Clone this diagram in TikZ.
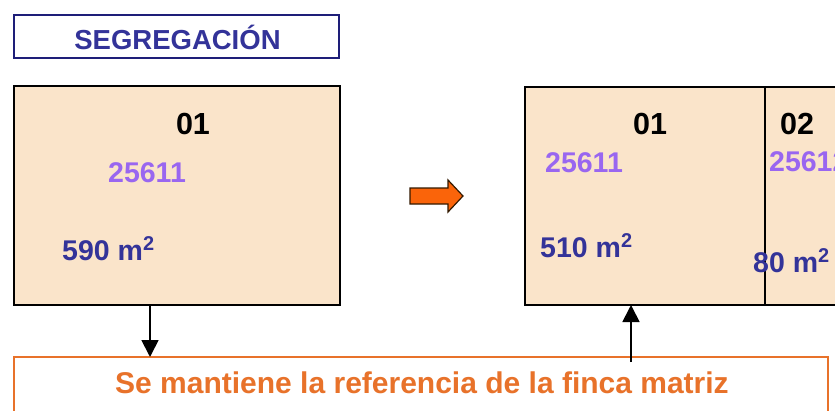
\documentclass[tikz,border=0pt]{standalone}
\usepackage{fontspec}
\setmainfont{Liberation Sans}
\definecolor{titleblue}{RGB}{51,51,153}
\definecolor{titleframe}{RGB}{30,30,120}
\definecolor{refpurple}{RGB}{153,102,240}
\definecolor{areablue}{RGB}{51,51,153}
\definecolor{orangetxt}{RGB}{232,114,42}
\definecolor{arrowfill}{RGB}{250,100,10}
\definecolor{plotfill}{RGB}{250,228,202}
\tikzset{
  plotbox/.style={draw=black,line width=2.8pt,fill=plotfill},
  numlabel/.style={font=\bfseries\fontsize{30.5}{30.5}\selectfont,text=black,inner sep=0pt},
  reflabel/.style={font=\bfseries\fontsize{28.5}{28.5}\selectfont,text=refpurple,inner sep=0pt},
  arealabel/.style={font=\bfseries\fontsize{28.5}{28.5}\selectfont,text=areablue,inner sep=0pt},
  conn/.style={draw=black,line width=1.8pt,-{Triangle[width=17pt,length=17pt]}}
}
\usetikzlibrary{arrows.meta}
\begin{document}
\begin{tikzpicture}[x=1pt,y=-1pt]
\useasboundingbox (0,0) rectangle (835,410);
\fill[white] (0,0) rectangle (835,410);
\begin{scope}
\clip (0,0) rectangle (835,410);
% title
\draw[draw=titleframe,line width=2.8pt,fill=white] (14,15) rectangle (339,58);
\node[font=\bfseries\fontsize{27.5}{27.5}\selectfont,text=titleblue,inner sep=0pt,anchor=base] (title) at (177.5,49) {SEGREGACIÓN};
% left plot
\path[plotbox] (14,86) rectangle (340,305);
\coordinate (leftbot) at (150,305);
\node[numlabel,anchor=base] (l01) at (193,134) {01};
\node[reflabel,anchor=base west] (lref) at (108,182) {25611};
\node[arealabel,anchor=base west] (larea) at (62,260) {590 m\textsuperscript{2}};
% block arrow
\draw[fill=arrowfill,draw=black!80!orange,line width=1.2pt,line join=miter]
  (410,188) -- (448,188) -- (448,180) -- (463,196) -- (448,212) -- (448,204) -- (410,204) -- cycle;
% right plot
\path[plotbox] (525,87) rectangle (900,305);
\draw[black,line width=2pt] (765,87) -- (765,305);
\coordinate (rightbot) at (631,305);
\node[numlabel,anchor=base] (r01) at (650,134) {01};
\node[numlabel,anchor=base] (r02) at (797,134) {02};
\node[reflabel,anchor=base west] (rref1) at (545,172) {25611};
\node[reflabel,anchor=base west] (rref2) at (769,171) {25612};
\node[arealabel,anchor=base west] (rarea1) at (540,257) {510 m\textsuperscript{2}};
\node[arealabel,anchor=base west] (rarea2) at (753,272) {80 m\textsuperscript{2}};
% bottom box
\draw[draw=orangetxt,line width=2.5pt,fill=white] (14,357) rectangle (828,440);
\node[font=\bfseries\fontsize{30}{30}\selectfont,text=orangetxt,inner sep=0pt,anchor=base] (note) at (422,393) {Se mantiene la referencia de la finca matriz};
\coordinate (noteleft) at (150,357);
\coordinate (noteright) at (631,362);
% connectors
\draw[conn] (leftbot) -- (noteleft);
\draw[conn] (noteright) -- (rightbot);
\end{scope}
\end{tikzpicture}
\end{document}
